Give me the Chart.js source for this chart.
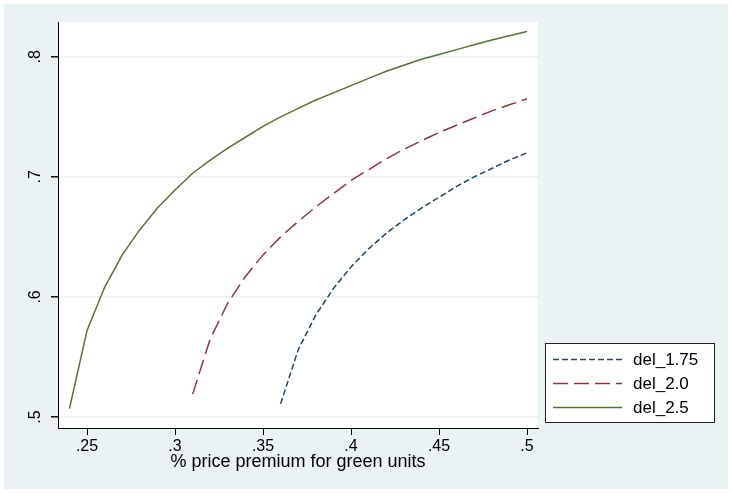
<!DOCTYPE html>
<html>
<head>
<meta charset="utf-8">
<script src="https://cdn.jsdelivr.net/npm/chart.js@4/dist/chart.umd.min.js"></script>
<style>
  html, body { margin: 0; padding: 0; background: #ffffff; }
  #wrap { width: 732px; height: 493px; }
</style>
</head>
<body>
<div id="wrap"><canvas id="chart" width="732" height="493"></canvas></div>
<script>
// Kurvedata (x = pristillæg, y = andel)
const premium175 = [0.36, 0.37, 0.38, 0.39, 0.40, 0.41, 0.42, 0.43, 0.44, 0.45, 0.46, 0.47, 0.48, 0.49, 0.50];
const del175 = [0.511, 0.556, 0.585, 0.607, 0.625, 0.640, 0.653, 0.664, 0.674, 0.683, 0.692, 0.700, 0.707, 0.714, 0.720];

const premium20 = [0.31, 0.32, 0.33, 0.34, 0.35, 0.36, 0.37, 0.38, 0.39, 0.40, 0.41, 0.42, 0.43, 0.44, 0.45, 0.46, 0.47, 0.48, 0.49, 0.50];
const del20 = [0.519, 0.565, 0.595, 0.617, 0.635, 0.650, 0.663, 0.675, 0.686, 0.697, 0.706, 0.715, 0.723, 0.730, 0.737, 0.743, 0.749, 0.755, 0.760, 0.765];

const premium25 = [0.24, 0.25, 0.26, 0.27, 0.28, 0.29, 0.30, 0.31, 0.32, 0.33, 0.34, 0.35, 0.36, 0.37, 0.38, 0.39, 0.40, 0.41, 0.42, 0.43, 0.44, 0.45, 0.46, 0.47, 0.48, 0.49, 0.50];
const del25 = [0.507, 0.572, 0.608, 0.635, 0.656, 0.674, 0.689, 0.703, 0.714, 0.724, 0.733, 0.742, 0.750, 0.757, 0.764, 0.770, 0.776, 0.782, 0.788, 0.793, 0.798, 0.802, 0.806, 0.810, 0.814, 0.8175, 0.821];

const seriesNames = ['del_1.75', 'del_2.0', 'del_2.5'];

// Akse-ticks
const xTickValues = [0.25, 0.3, 0.35, 0.4, 0.45, 0.5];
const xTickLabels = ['.25', '.3', '.35', '.4', '.45', '.5'];
const yTickValues = [0.5, 0.6, 0.7, 0.8];
const yTickLabels = ['.5', '.6', '.7', '.8'];

const FONT = "'Liberation Sans', Arial, sans-serif";

function toPoints(xs, ys) {
    return xs.map(function (x, i) { return {x: x, y: ys[i]}; });
}

// Baggrund i Stata-stil: lys blågrå ramme og hvidt plotområde
const backgroundPlugin = {
    id: 'background',
    beforeDraw: function (chart) {
        const ctx = chart.ctx;
        const a = chart.chartArea;
        ctx.save();
        ctx.fillStyle = '#ffffff';
        ctx.fillRect(0, 0, chart.width, chart.height);
        ctx.fillStyle = '#eaf2f3';
        ctx.fillRect(4, 4, chart.width - 8, chart.height - 8);
        ctx.fillStyle = '#ffffff';
        ctx.fillRect(a.left, a.top, a.right - a.left, a.bottom - a.top);
        ctx.restore();
    }
};

// Forklaring med ramme til højre for plottet
const legendBoxPlugin = {
    id: 'legendBox',
    afterDraw: function (chart) {
        const ctx = chart.ctx;
        const box = {left: 545.5, top: 343.5, right: 714.5, bottom: 422.5};
        ctx.save();
        ctx.fillStyle = '#ffffff';
        ctx.fillRect(box.left, box.top, box.right - box.left, box.bottom - box.top);
        ctx.strokeStyle = '#222222';
        ctx.lineWidth = 1;
        ctx.strokeRect(box.left, box.top, box.right - box.left, box.bottom - box.top);
        chart.data.datasets.forEach(function (ds, i) {
            const y = 359.5 + i * 24;
            ctx.strokeStyle = ds.borderColor;
            ctx.lineWidth = ds.borderWidth;
            ctx.setLineDash(ds.borderDash || []);
            ctx.beginPath();
            ctx.moveTo(553, y);
            ctx.lineTo(622, y);
            ctx.stroke();
            ctx.setLineDash([]);
            ctx.fillStyle = '#000000';
            ctx.font = '17px ' + FONT;
            ctx.textBaseline = 'middle';
            ctx.textAlign = 'left';
            ctx.fillText(ds.label, 633, y + 1);
        });
        ctx.restore();
    }
};

const ctx = document.querySelector('#chart').getContext('2d');
const chart = new Chart(ctx, {
    type: 'line',
    data: {
        datasets: [
            {
                label: seriesNames[0],
                data: toPoints(premium175, del175),
                borderColor: '#1a476f',
                borderWidth: 1.5,
                borderDash: [6, 3]
            },
            {
                label: seriesNames[1],
                data: toPoints(premium20, del20),
                borderColor: '#90353b',
                borderWidth: 1.5,
                borderDash: [15, 6]
            },
            {
                label: seriesNames[2],
                data: toPoints(premium25, del25),
                borderColor: '#55752f',
                borderWidth: 1.5
            }
        ]
    },
    plugins: [backgroundPlugin, legendBoxPlugin],
    options: {
        responsive: false,
        animation: false,
        devicePixelRatio: 1,
        elements: {
            point: {radius: 0},
            line: {tension: 0, fill: false}
        },
        layout: {
            padding: {left: 4, right: 194, top: 22, bottom: 4}
        },
        scales: {
            x: {
                type: 'linear',
                min: 0.2335,
                max: 0.50625,
                afterFit: function (scale) { scale.height = 61; },
                afterBuildTicks: function (scale) {
                    scale.ticks = xTickValues.map(function (v) { return {value: v}; });
                },
                grid: {
                    drawOnChartArea: false, // ingen lodrette gitterlinjer
                    drawTicks: true,
                    tickLength: 7,
                    tickColor: '#000000'
                },
                border: {display: true, color: '#000000', width: 1},
                ticks: {
                    color: '#000000',
                    font: {family: FONT, size: 16},
                    padding: 2,
                    maxRotation: 0,
                    callback: function (value, index) { return xTickLabels[index]; }
                },
                title: {
                    display: true,
                    text: '% price premium for green units',
                    color: '#000000',
                    font: {family: FONT, size: 18},
                    padding: {top: 0, bottom: 16}
                }
            },
            y: {
                type: 'linear',
                min: 0.4908,
                max: 0.829,
                afterFit: function (scale) { scale.width = 54; },
                afterBuildTicks: function (scale) {
                    scale.ticks = yTickValues.map(function (v) { return {value: v}; });
                },
                grid: {
                    color: '#eaf2f3',
                    lineWidth: 1.5,
                    drawTicks: true,
                    tickLength: 7,
                    tickColor: '#000000'
                },
                border: {display: true, color: '#000000', width: 1},
                ticks: {
                    color: '#000000',
                    font: {family: FONT, size: 16},
                    minRotation: 90,
                    maxRotation: 90,
                    crossAlign: 'center',
                    padding: 9,
                    callback: function (value, index) { return yTickLabels[index]; }
                }
            }
        },
        plugins: {
            legend: {display: false},
            tooltip: {enabled: false}
        }
    }
});
</script>
</body>
</html>
